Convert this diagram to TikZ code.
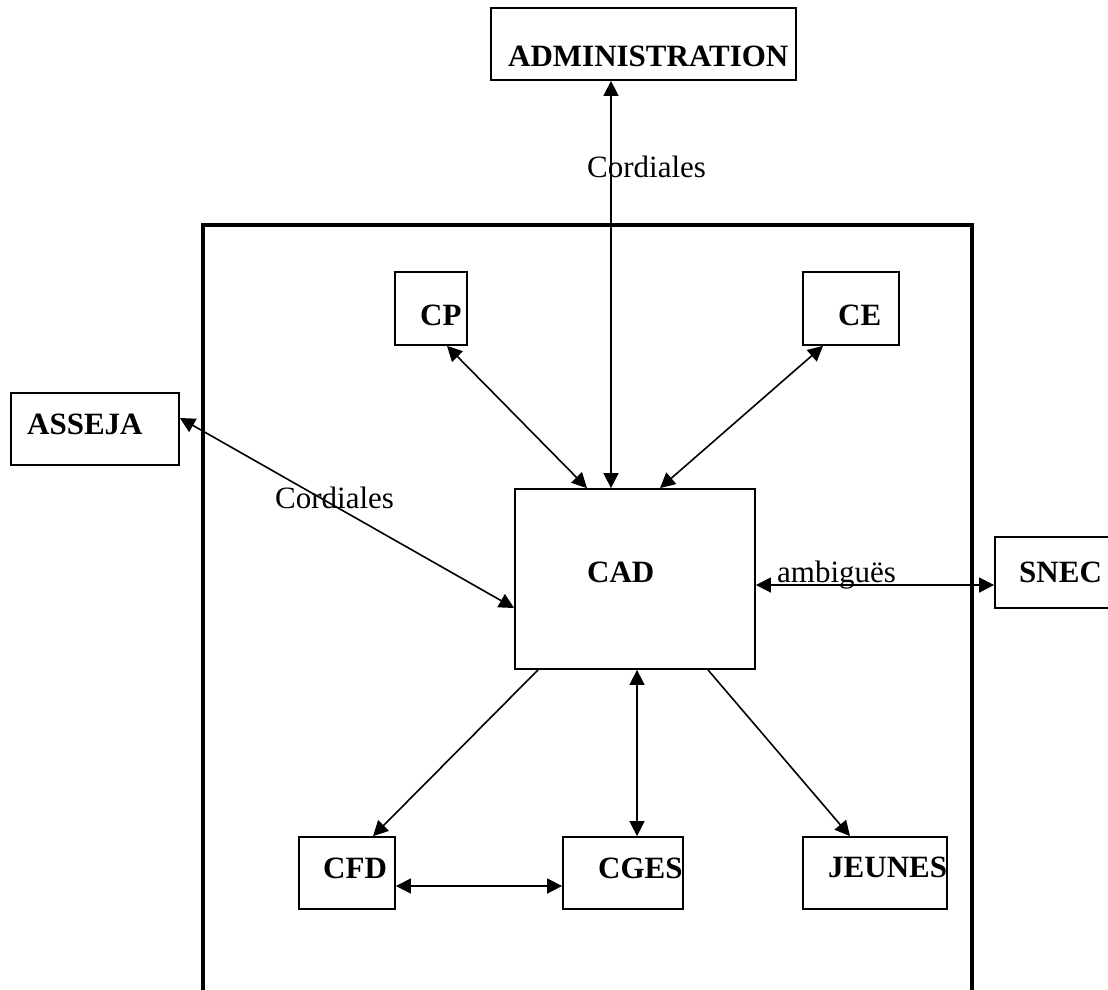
\documentclass[tikz,border=0pt]{standalone}
\usepackage{fontspec}
\setmainfont{Liberation Serif}
\usetikzlibrary{arrows.meta}
\tikzset{
  box/.style={draw, line width=1.8pt, rectangle, inner sep=0pt},
  bl/.style={anchor=base west, inner sep=0pt, font=\fontsize{31pt}{31pt}\selectfont\bfseries},
  rl/.style={anchor=base west, inner sep=0pt, font=\fontsize{31pt}{31pt}\selectfont},
  conn/.style={line width=1.6pt, >={Triangle[length=15pt,width=15pt]}},
  frame/.style={line width=4pt}
}
\begin{document}
\begin{tikzpicture}[x=1pt,y=-1pt]
\useasboundingbox (0,0) rectangle (1108,989);
\clip (0,0) rectangle (1108,989);
% outer frame
\draw[frame] (203,1000) -- (203,225) -- (972,225) -- (972,1000);
% boxes
\node[box, minimum width=305pt, minimum height=72pt] (adm) at (643.5,44) {};
\node[box, minimum width=72pt, minimum height=73pt] (cp) at (431,308.5) {};
\node[box, minimum width=96pt, minimum height=73pt] (ce) at (851,308.5) {};
\node[box, minimum width=168pt, minimum height=72pt] (ass) at (95,429) {};
\node[box, minimum width=240pt, minimum height=180pt] (cad) at (635,579) {};
\node[box, minimum width=130pt, minimum height=71pt] (snec) at (1060,572.5) {};
\node[box, minimum width=96pt, minimum height=72pt] (cfd) at (347,873) {};
\node[box, minimum width=120pt, minimum height=72pt] (cges) at (623,873) {};
\node[box, minimum width=144pt, minimum height=72pt] (jeu) at (875,873) {};
% texts
\node[bl] (admT) at (508,66) {ADMINISTRATION};
\node[bl] (cpT) at (420,325) {CP};
\node[bl] (ceT) at (838,325) {CE};
\node[bl] (assT) at (27,434) {ASSEJA};
\node[bl] (cadT) at (587,582) {CAD};
\node[bl] (snecT) at (1019,582) {SNEC};
\node[bl] (cfdT) at (323,878) {CFD};
\node[bl] (cgesT) at (598,878) {CGES};
\node[bl] (jeuT) at (828,877) {JEUNES};
% connector labels
\node[rl] (l1) at (587,177) {Cordiales};
\node[rl] (l2) at (275,508) {Cordiales};
\node[rl] (l3) at (777,582) {ambiguës};
% connectors
\draw[conn,<->] ([xshift=-24pt]cad.north) -- ([xshift=-24pt]cad.north |- adm.south);
\draw[conn,<->] ([xshift=16pt]cp.south) -- ([xshift=-48pt]cad.north);
\draw[conn,<->] ([xshift=-28pt]ce.south) -- ([xshift=25pt]cad.north);
\draw[conn,<->] ([yshift=11pt]ass.east) -- ([yshift=-29pt]cad.west);
\draw[conn,<->] ([yshift=-6pt]cad.east) -- ([yshift=-6pt]cad.east -| snec.west);
\draw[conn,->] ([xshift=-97pt]cad.south) -- ([xshift=26pt]cfd.north);
\draw[conn,<->] ([xshift=2pt]cad.south) -- ([xshift=2pt]cad.south |- cges.north);
\draw[conn,->] ([xshift=73pt]cad.south) -- ([xshift=-25pt]jeu.north);
\draw[conn,<->] ([yshift=-13pt]cfd.east) -- ([yshift=-13pt]cfd.east -| cges.west);
\end{tikzpicture}
\end{document}
